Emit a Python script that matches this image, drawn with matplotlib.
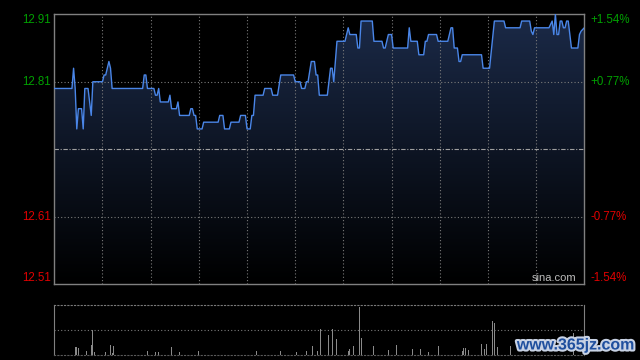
import numpy as np
import matplotlib
matplotlib.use("Agg")
from matplotlib import pyplot as plt
from matplotlib.colors import LinearSegmentedColormap
from matplotlib.patches import Polygon
import matplotlib.patheffects as pe


# intraday price, minute index from the open (330 trading minutes, HK session)
minutes = [0, 11, 12, 13, 14, 15, 17, 18, 19, 21, 23, 24, 30, 31, 32, 34, 35, 36,
           55, 56, 57, 58, 62, 63, 64, 65, 66, 71, 72, 73, 76, 77, 78, 84, 85, 86,
           87, 88, 89, 92, 93, 102, 103, 105, 106, 109, 110, 115, 116, 119, 120,
           122, 123, 124, 125, 130, 131, 135, 136, 139, 141, 149, 150, 153, 154,
           156, 157, 158, 160, 162, 163, 164, 165, 170, 172, 173, 174, 176, 181,
           183, 184, 188, 189, 190, 191, 198, 199, 204, 205, 206, 208, 210, 211,
           220, 221, 222, 226, 227, 230, 231, 232, 233, 238, 239, 245, 247, 248,
           249, 251, 252, 253, 254, 266, 267, 271, 274, 280, 281, 290, 291, 296,
           297, 298, 299, 308, 310, 311, 312, 313, 314, 315, 316, 317, 318, 319,
           320, 322, 326, 327, 328, 330]
prices = [12.80, 12.80, 12.83, 12.80, 12.74, 12.77, 12.77, 12.74, 12.80, 12.80,
          12.76, 12.81, 12.81, 12.82, 12.82, 12.84, 12.83, 12.80,
          12.80, 12.82, 12.82, 12.80, 12.80, 12.79, 12.79, 12.80, 12.78, 12.78,
          12.79, 12.77, 12.77, 12.78, 12.76, 12.76, 12.77, 12.77,
          12.76, 12.76, 12.74, 12.74, 12.75, 12.75, 12.76, 12.76, 12.74, 12.74,
          12.75, 12.75, 12.76, 12.76, 12.74,
          12.74, 12.76, 12.76, 12.79, 12.79, 12.80, 12.80, 12.79, 12.79, 12.82,
          12.82, 12.81, 12.81, 12.80,
          12.80, 12.81, 12.81, 12.84, 12.84, 12.82, 12.82, 12.79, 12.79, 12.83,
          12.83, 12.81, 12.87, 12.87,
          12.89, 12.88, 12.88, 12.86, 12.86, 12.90, 12.90, 12.87, 12.87, 12.86,
          12.86, 12.88, 12.88, 12.86,
          12.86, 12.89, 12.87, 12.87, 12.85, 12.85, 12.87, 12.87, 12.88, 12.88,
          12.87, 12.87, 12.89, 12.89,
          12.86, 12.86, 12.84, 12.84, 12.85, 12.85, 12.83, 12.83, 12.90, 12.90,
          12.89, 12.89, 12.90, 12.90,
          12.885, 12.88, 12.89, 12.89, 12.90, 12.88, 12.91, 12.88, 12.88, 12.90,
          12.90, 12.89, 12.89, 12.90,
          12.90, 12.86, 12.86, 12.88, 12.885, 12.89]

# volume bars (thousand shares), only the visible ones
vol_minutes = [0, 13, 14, 15, 20, 23, 24, 25, 32, 35, 36, 37, 58, 63, 65, 73, 78,
               90, 126, 141, 151, 157, 161, 164, 166, 171, 173, 176, 183, 184,
               186, 190, 191, 199, 208, 213, 223, 228, 233, 239, 254, 255, 256,
               258, 266, 268, 269, 273, 274, 276, 284, 323]
volumes = [35, 29, 29, 25, 13, 39, 97, 11, 11, 39, 6, 35, 15, 11, 11, 31, 11,
           15, 15, 15, 11, 15, 35, 15, 101, 79, 101, 61, 15, 21,
           35, 189, 65, 35, 17, 39, 21, 21, 11, 35, 15, 27, 25,
           17, 43, 21, 43, 135, 128, 29, 35, 85]

prev_close = 12.71
price_ticks = [12.51, 12.61, 12.71, 12.81, 12.91]
left_labels = ["12.51", "12.61", "", "12.81", "12.91"]
right_labels = ["-1.54%", "-0.77%", "", "+0.77%", "+1.54%"]

GREEN = "#00a000"
RED = "#e00000"
GRID = "#7a7a7a"
FRAME = "#808080"
TOTAL = 330

plt.rcParams["font.family"] = ["Liberation Sans", "DejaVu Sans"]

fig = plt.figure(figsize=(6.4, 3.6), dpi=100, facecolor="black")
ax = fig.add_axes([54.3 / 640, 1 - 284 / 360, 530 / 640, 269.7 / 360])
vax = fig.add_axes([54.3 / 640, 1 - 354.7 / 360, 530 / 640, 50 / 360])

# --- price panel
ax.set_facecolor("black")
ax.set_xlim(0, TOTAL)
ax.set_ylim(price_ticks[0], price_ticks[-1])

cmap = LinearSegmentedColormap.from_list("fade", ["#000000", "#1b2a48"])
grad = np.linspace(0, 1, 256).reshape(-1, 1)
im = ax.imshow(grad, cmap=cmap, origin="lower", aspect="auto",
               extent=[0, TOTAL, price_ticks[0], price_ticks[-1]], zorder=1)
verts = [(minutes[0], price_ticks[0])] + list(zip(minutes, prices)) + \
        [(minutes[-1], price_ticks[0])]
poly = Polygon(verts, closed=True, facecolor="none", edgecolor="none")
ax.add_patch(poly)
im.set_clip_path(poly)

for i in range(1, 11):
    ax.axvline(TOTAL * i / 11, color=GRID, lw=0.8, ls=(0, (1, 2)), zorder=2)
for p in (12.61, 12.81):
    ax.axhline(p, color=GRID, lw=0.8, ls=(0, (1, 2)), zorder=2)
ax.axhline(prev_close, color="#a0a0a0", lw=0.8, ls=(0, (4, 1.5, 1, 1.5)), zorder=2)

ax.plot(minutes, prices, color="#4a86e8", lw=1.0, zorder=3)

ax.set_xticks([])
ax.set_yticks([])
for sp in ax.spines.values():
    sp.set_color(FRAME)
    sp.set_linewidth(1)

for p, ll, rl in zip(price_ticks, left_labels, right_labels):
    if not ll:
        continue
    col = GREEN if p > prev_close else RED
    va = "center"
    if p == price_ticks[-1]:
        va = "top"
    elif p == price_ticks[0]:
        va = "bottom"
    ax.text(-0.007, p, ll, transform=ax.get_yaxis_transform(), ha="right",
            va=va, color=col, fontsize=8.3)
    ax.text(1.011, p, rl, transform=ax.get_yaxis_transform(), ha="left",
            va=va, color=col, fontsize=8.3)

ax.text(0.985, 0.005, "sina.com", transform=ax.transAxes, ha="right",
        va="bottom", color="#bdbdbd", fontsize=8)

# --- volume panel
vax.set_facecolor("black")
vax.set_xlim(0, TOTAL)
vax.set_ylim(0, 200)
vax.bar(vol_minutes, volumes, width=0.6, color="#8a8a8a", zorder=2)
vax.axhline(100, color=GRID, lw=0.8, ls=(0, (1, 2)))
vax.set_xticks([])
vax.set_yticks([])
for side in ("left", "right"):
    vax.spines[side].set_color(FRAME)
vax.spines["top"].set_color(GRID)
vax.spines["top"].set_linestyle((0, (1, 2)))
vax.spines["bottom"].set_color("#5a5a5a")
vax.spines["bottom"].set_linestyle((0, (1, 2)))

fig.text(576 / 640, 1 - 345 / 360, "www.365jz.com", ha="center", va="center",
         color="#1f4f9e", fontsize=11.5, fontweight="bold",
         path_effects=[pe.withStroke(linewidth=3, foreground="#c8d2e4")])

fig.savefig("out.png", dpi=100, facecolor="black")
